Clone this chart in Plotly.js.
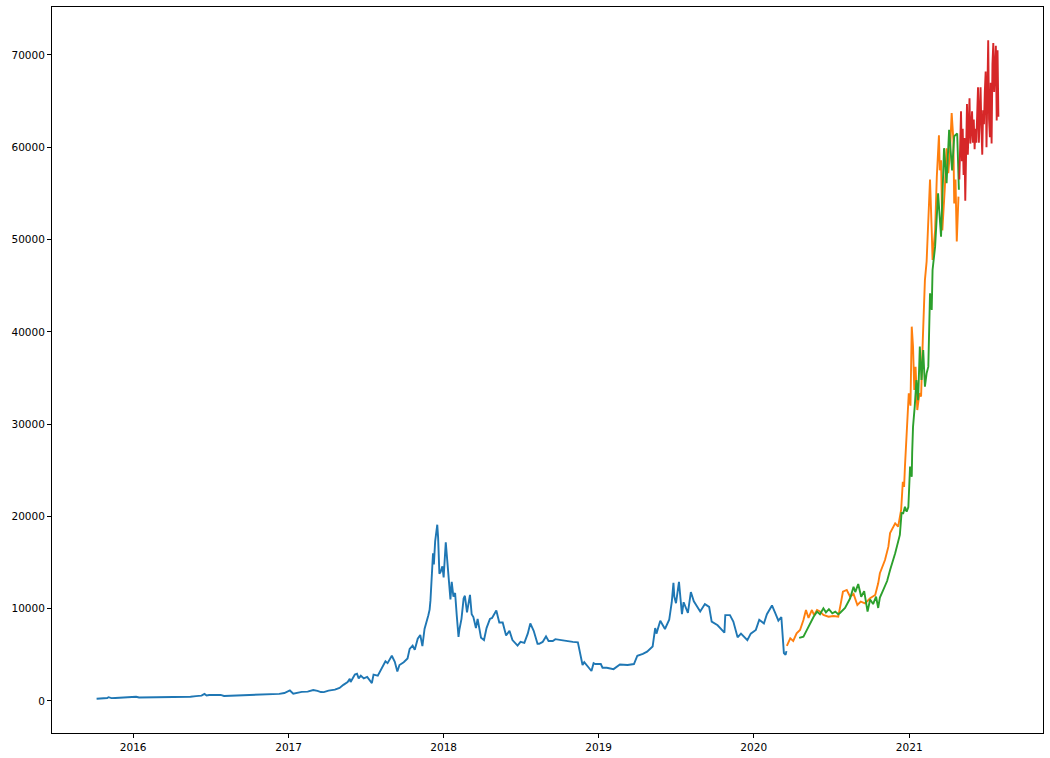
<!DOCTYPE html>
<html>
<head>
<meta charset="utf-8">
<script src="https://cdn.plot.ly/plotly-3.0.1.min.js"></script>
<style>html,body{margin:0;padding:0;background:#fff;}#chart{width:1050px;height:758px;}</style>
</head>
<body>
<div id="chart"></div>
<script>
// Training series (blue)
const blueDates = ["2015-10-07","2015-10-15","2015-10-25","2015-11-01","2015-11-04","2015-11-07","2015-11-11","2015-11-20","2015-12-01","2015-12-10","2015-12-18","2015-12-28",
"2016-01-08","2016-01-15","2016-01-28","2016-02-10","2016-02-25","2016-03-10","2016-03-25","2016-04-10","2016-04-28","2016-05-15","2016-05-28","2016-06-10","2016-06-17","2016-06-22","2016-06-28","2016-07-10","2016-07-25","2016-08-02","2016-08-15","2016-09-01","2016-09-15","2016-10-01","2016-10-15","2016-10-30","2016-11-10","2016-11-25","2016-12-10","2016-12-22",
"2017-01-04","2017-01-12","2017-01-20","2017-02-01","2017-02-15","2017-02-28","2017-03-10","2017-03-18","2017-03-25","2017-04-05","2017-04-20","2017-05-01","2017-05-10","2017-05-20","2017-05-25","2017-05-27","2017-06-06","2017-06-11","2017-06-15","2017-06-20","2017-06-27","2017-07-05","2017-07-16","2017-07-20","2017-07-30","2017-08-05","2017-08-12","2017-08-17","2017-08-22","2017-09-01","2017-09-08","2017-09-14","2017-09-19","2017-09-29","2017-10-08","2017-10-13","2017-10-20","2017-10-25","2017-11-01","2017-11-07","2017-11-12","2017-11-17","2017-11-26","2017-11-29","2017-12-01","2017-12-07","2017-12-09","2017-12-12","2017-12-17","2017-12-19","2017-12-22","2017-12-25","2017-12-29",
"2018-01-01","2018-01-06","2018-01-09","2018-01-12","2018-01-17","2018-01-20","2018-01-24","2018-01-28","2018-02-01","2018-02-05","2018-02-07","2018-02-12","2018-02-17","2018-02-20","2018-02-25","2018-03-04","2018-03-08","2018-03-12","2018-03-18","2018-03-22","2018-03-30","2018-04-06","2018-04-12","2018-04-20","2018-04-25","2018-05-05","2018-05-12","2018-05-20","2018-05-28","2018-06-05","2018-06-12","2018-06-24","2018-07-01","2018-07-10","2018-07-18","2018-07-24","2018-08-01","2018-08-10","2018-08-14","2018-08-22","2018-08-30","2018-09-05","2018-09-15","2018-09-21","2018-10-05","2018-10-15","2018-11-01","2018-11-13","2018-11-19","2018-11-24","2018-11-28","2018-12-05","2018-12-15","2018-12-20","2018-12-24",
"2019-01-06","2019-01-10","2019-01-20","2019-02-05","2019-02-20","2019-03-10","2019-03-25","2019-04-02","2019-04-15","2019-04-25","2019-05-08","2019-05-14","2019-05-17","2019-05-26","2019-06-06","2019-06-16","2019-06-22","2019-06-26","2019-06-28","2019-07-02","2019-07-09","2019-07-16","2019-07-20","2019-07-30","2019-08-06","2019-08-13","2019-08-28","2019-09-08","2019-09-18","2019-09-24","2019-10-08","2019-10-24","2019-10-26","2019-11-06","2019-11-14","2019-11-24","2019-12-02","2019-12-17","2019-12-25",
"2020-01-06","2020-01-14","2020-01-25","2020-02-01","2020-02-13","2020-02-20","2020-02-28","2020-03-06","2020-03-12","2020-03-16","2020-03-18"];
const blueVals = [245,255,285,320,410,385,305,325,360,415,455,425,
455,375,380,380,425,415,415,420,450,455,530,575,765,590,645,650,655,545,570,575,610,615,640,700,715,740,770,860,
1135,790,890,985,1010,1190,1100,970,960,1120,1230,1420,1750,2050,2400,2050,2870,2960,2450,2750,2450,2600,1930,2850,2750,3250,3850,4300,4100,4900,4250,3200,3900,4200,4600,5650,6000,5550,6750,7150,5950,7800,9300,9900,10900,16000,14800,17300,19100,17700,13800,14000,14600,
13400,17200,14900,13800,11000,12900,11300,11700,9200,6950,7700,8900,11100,11400,9600,11500,9400,9100,7900,8900,6850,6600,7900,8900,9000,9800,8500,8500,7100,7600,6600,6000,6400,6300,7300,8400,7600,6200,6200,6400,7000,6500,6500,6700,6600,6500,6400,6350,4800,3900,4200,3800,3250,4100,4000,
4000,3600,3600,3450,3950,3900,4000,4900,5100,5350,5900,7900,7300,8700,7800,8800,10700,12800,11300,10600,12900,9400,10700,9550,11800,10800,9700,10500,10200,8600,8200,7400,9300,9300,8600,6900,7300,6600,7300,
7700,8800,8400,9400,10350,9600,8700,9100,5200,5000,5400];

// Test series (orange)
const orangeDates = ["2020-03-19","2020-03-27","2020-04-03","2020-04-11","2020-04-19","2020-04-27","2020-05-03","2020-05-09","2020-05-17","2020-05-22","2020-05-29","2020-06-05","2020-06-13","2020-06-25","2020-07-07","2020-07-18","2020-07-24","2020-07-29","2020-08-07","2020-08-15","2020-08-23","2020-09-01","2020-09-09","2020-09-19","2020-10-01","2020-10-13","2020-10-20","2020-10-24","2020-11-05","2020-11-13","2020-11-17","2020-11-29","2020-12-06","2020-12-13","2020-12-17","2020-12-20","2020-12-22","2020-12-24","2020-12-27","2020-12-31",
"2021-01-04","2021-01-07","2021-01-10","2021-01-13","2021-01-16","2021-01-20","2021-01-25","2021-01-29","2021-02-02","2021-02-07","2021-02-11","2021-02-15","2021-02-19","2021-02-23","2021-02-25","2021-03-03","2021-03-07","2021-03-12","2021-03-14","2021-03-17","2021-03-20","2021-03-26","2021-03-30","2021-04-03","2021-04-07","2021-04-11","2021-04-15","2021-04-17","2021-04-20","2021-04-23","2021-04-27"];
const orangeVals = [5960,6790,6500,7330,7690,8780,9860,9000,9860,9300,9860,9700,9320,9130,9200,9130,10580,11840,12030,11300,11600,10400,10760,10580,11130,11490,12750,13840,15280,16720,18200,19250,18900,20700,23760,23200,25400,27200,29360,33340,
32000,40560,38400,33700,36200,31530,33340,33000,39100,45600,47600,51760,56500,51000,47800,51000,56800,61300,57500,58600,51000,55700,59900,57200,59500,63700,60800,53900,56500,49800,54650];

// Predicted series (green)
const greenDates = ["2020-04-17","2020-04-27","2020-05-04","2020-05-09","2020-05-15","2020-05-21","2020-05-29","2020-06-05","2020-06-13","2020-06-19","2020-06-26","2020-07-04","2020-07-11","2020-07-18","2020-07-22","2020-08-03","2020-08-15","2020-08-23","2020-08-27","2020-09-03","2020-09-10","2020-09-17","2020-09-25","2020-10-01","2020-10-08","2020-10-15","2020-10-20","2020-10-24","2020-11-01","2020-11-10","2020-11-17","2020-11-29","2020-12-10","2020-12-14","2020-12-18","2020-12-22","2020-12-26","2020-12-30",
"2021-01-03","2021-01-07","2021-01-08","2021-01-10","2021-01-14","2021-01-18","2021-01-22","2021-01-26","2021-01-30","2021-02-03","2021-02-07","2021-02-11","2021-02-15","2021-02-19","2021-02-23","2021-02-25","2021-03-03","2021-03-07","2021-03-10","2021-03-17","2021-03-24","2021-03-30","2021-04-05","2021-04-12","2021-04-17","2021-04-24","2021-04-28"];
const greenVals = [6830,6970,7600,8050,8600,9130,9680,9400,10040,9600,9950,9500,9680,9400,9530,10080,11130,12380,11800,12680,11300,11900,9680,11000,10500,11300,10080,11200,12030,13000,14190,16000,18000,20370,20340,21050,20500,21000,
25400,24300,26870,29700,31890,34780,32600,38400,34780,38030,34060,35500,36230,44170,42370,46700,49230,53000,55000,50300,59900,56100,61900,57500,61200,61500,55400];

// Forecast series (red)
const redDates = ["2021-04-29","2021-05-01","2021-05-03","2021-05-05","2021-05-07","2021-05-09","2021-05-11","2021-05-13","2021-05-15","2021-05-17","2021-05-19","2021-05-21","2021-05-23","2021-05-25","2021-05-27","2021-05-29","2021-05-31","2021-06-02","2021-06-04","2021-06-06","2021-06-08","2021-06-10","2021-06-12","2021-06-14","2021-06-16","2021-06-18","2021-06-20","2021-06-22","2021-06-24","2021-06-26","2021-06-28","2021-06-30","2021-07-02","2021-07-04","2021-07-06","2021-07-08","2021-07-10","2021-07-12","2021-07-14","2021-07-16","2021-07-18","2021-07-20","2021-07-22","2021-07-24","2021-07-26","2021-07-28","2021-07-30"];
const redVals = [56500,60500,63900,58500,62000,57000,61000,54200,59000,64700,59200,62500,65300,60400,62000,63900,60500,63000,59800,62000,60500,65500,66500,60500,63500,66500,62000,59200,64000,62500,66000,68200,60000,66000,71600,63000,61100,67000,60400,69000,71300,66000,69500,71000,62900,70500,63300];

const yTicks = [0,10000,20000,30000,40000,50000,60000,70000];
const xTickVals = ["2016-01-01","2017-01-01","2018-01-01","2019-01-01","2020-01-01","2021-01-01"];
const xTickText = ["2016","2017","2018","2019","2020","2021"];

const lw = 1.9;
const traces = [
  {x: blueDates, y: blueVals, type: 'scatter', mode: 'lines', line: {color: '#1f77b4', width: lw}},
  {x: orangeDates, y: orangeVals, type: 'scatter', mode: 'lines', line: {color: '#ff7f0e', width: lw}},
  {x: greenDates, y: greenVals, type: 'scatter', mode: 'lines', line: {color: '#2ca02c', width: lw}},
  {x: redDates, y: redVals, type: 'scatter', mode: 'lines', line: {color: '#d62728', width: lw}}
];

const axisCommon = {
  showgrid: false, zeroline: false, showline: true, mirror: true,
  linecolor: '#000', linewidth: 1, ticks: 'outside', ticklen: 4, tickwidth: 1, tickcolor: '#000',
  tickfont: {family: 'DejaVu Sans, sans-serif', size: 10.5, color: '#000'}
};

const layout = {
  width: 1050, height: 758,
  margin: {l: 52, r: 7, t: 7, b: 25},
  paper_bgcolor: '#fff', plot_bgcolor: '#fff',
  showlegend: false,
  xaxis: Object.assign({}, axisCommon, {
    type: 'date', range: ['2015-06-24', '2021-11-12'],
    tickmode: 'array', tickvals: xTickVals, ticktext: xTickText
  }),
  yaxis: Object.assign({}, axisCommon, {
    range: [-3470, 75200], tickmode: 'array', tickvals: yTicks,
    ticktext: yTicks.map(String)
  })
};

Plotly.newPlot('chart', traces, layout, {displayModeBar: false, staticPlot: true});
</script>
</body>
</html>
